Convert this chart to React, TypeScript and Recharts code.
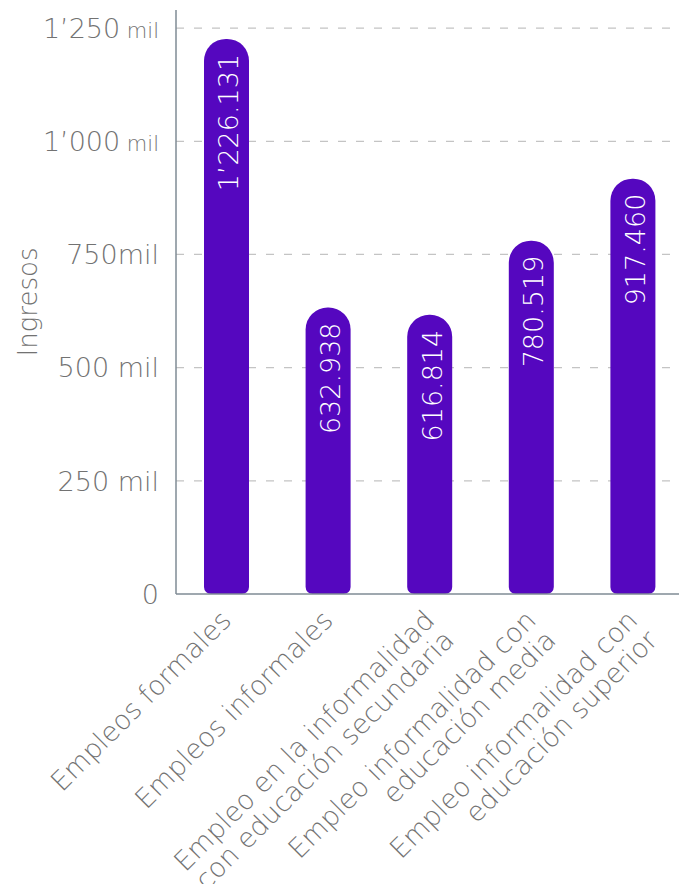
import { BarChart, Bar, XAxis, YAxis, CartesianGrid, LabelList, Label } from 'recharts'

// categorías (una entrada por línea del rótulo)
const categoryLines: string[][] = [
  ['Empleos formales'],
  ['Empleos informales'],
  ['Empleo en la informalidad', 'con educación secundaria'],
  ['Empleo informalidad con', 'educación media'],
  ['Empleo informalidad con', 'educación superior'],
]
const categoryKeys = ['formales', 'informales', 'secundaria', 'media', 'superior']
const ingresos = [1226131, 632938, 616814, 780519, 917460]
const ingresosLabels = ['1’226.131', '632.938', '616.814', '780.519', '917.460']

const yTicks = [0, 250000, 500000, 750000, 1000000, 1250000]
const yTickNumbers = ['0', '250', '500', '750', '1’000', '1’250']
const yTickUnits = ['', ' mil', ' mil', 'mil', ' mil', ' mil']
const yTickUnitSmall = [false, false, false, false, true, true]

const data = categoryKeys.map((key, i) => ({
  key,
  value: ingresos[i],
  label: ingresosLabels[i],
}))

const FONT = '"DejaVu Sans", sans-serif'
const TEXT = '#727272'
const PURPLE = '#5507bf'
const AXIS = '#7f8b94'

function YTick({ x, y, payload }: any) {
  const i = yTicks.indexOf(payload.value)
  return (
    <text x={x - 17} y={y} dy="0.36em" textAnchor="end" fontFamily={FONT} fontWeight={200} fontSize={27} fill={TEXT}>
      {yTickNumbers[i]}
      <tspan fontSize={yTickUnitSmall[i] ? 21 : 27}>{yTickUnits[i]}</tspan>
    </text>
  )
}

function XTick({ x, y, payload }: any) {
  const i = categoryKeys.indexOf(payload.value)
  const lines = categoryLines[i] || []
  return (
    <g transform={`translate(${x + 6},${y + 28})`}>
      <text transform="rotate(-45)" textAnchor="end" fontFamily={FONT} fontWeight={200} fontSize={27} fill={TEXT}>
        {lines.map((line, j) => (
          <tspan key={j} x={0} dy={j === 0 ? 0 : 28}>
            {line}
          </tspan>
        ))}
      </text>
    </g>
  )
}

function BarValue({ x, y, width, value }: any) {
  const cx = x + width / 2 + 12
  const ty = y + 15
  return (
    <text
      x={cx}
      y={ty}
      transform={`rotate(-90, ${cx}, ${ty})`}
      textAnchor="end"
      fontFamily={FONT}
      fontWeight={200}
      fontSize={27}
      fill="#ffffff"
    >
      {value}
    </text>
  )
}

export default function App() {
  return (
    <div style={{ position: 'absolute', left: 0, top: 0, width: 679, height: 884, overflow: 'hidden', background: '#fff' }}>
      <BarChart
        width={684}
        height={884}
        data={data}
        margin={{ top: 10, right: 0, bottom: 0, left: 0 }}
      >
        <CartesianGrid
          vertical={false}
          horizontalValues={yTicks.slice(1)}
          stroke="#c4c4c4"
          strokeDasharray="8 10"
          strokeWidth={1.3}
        />
        <XAxis
          dataKey="key"
          interval={0}
          height={290}
          tickSize={0}
          tickMargin={0}
          tickLine={false}
          stroke={AXIS}
          strokeWidth={1.5}
          tick={<XTick />}
        />
        <YAxis
          width={176}
          domain={[0, 1290000]}
          ticks={yTicks}
          tickSize={0}
          tickMargin={0}
          tickLine={false}
          stroke={AXIS}
          strokeWidth={1.5}
          tick={<YTick />}
        >
          <Label
            value="Ingresos"
            angle={-90}
            position="insideLeft"
            offset={28}
            fontFamily={FONT}
            fontWeight={200}
            fontSize={26}
            fill={TEXT}
            style={{ textAnchor: 'middle' }}
          />
        </YAxis>
        <Bar dataKey="value" fill={PURPLE} barSize={45} radius={[22, 22, 7, 7]} isAnimationActive={false}>
          <LabelList dataKey="label" content={<BarValue />} />
        </Bar>
      </BarChart>
    </div>
  )
}
